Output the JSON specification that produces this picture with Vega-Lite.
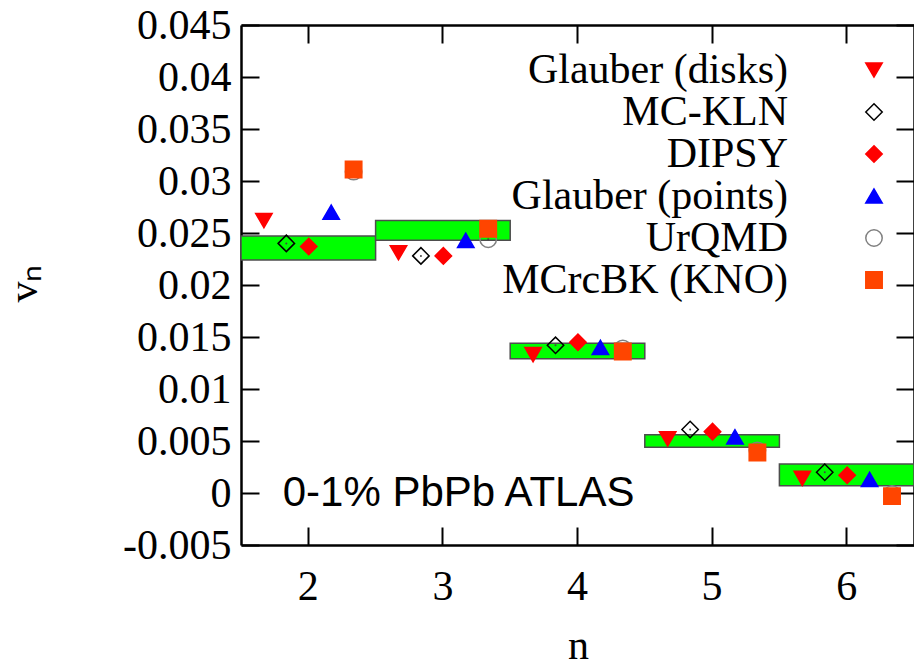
{
  "$schema": "https://vega.github.io/schema/vega-lite/v6.json",
  "width": 673,
  "height": 520,
  "autosize": {"type": "none"},
  "padding": {"left": 241, "top": 25, "right": 0, "bottom": 121},
  "background": "white",
  "config": {
    "view": {"stroke": null},
    "legend": {
      "orient": "none",
      "legendX": 612,
      "legendY": 24,
      "padding": 0,
      "rowPadding": -3.2,
      "labelFont": "Liberation Serif",
      "labelFontSize": 42,
      "labelColor": "black",
      "labelAlign": "right",
      "labelBaseline": "middle",
      "labelOffset": -107,
      "labelLimit": 500,
      "symbolSize": 270,
      "symbolStrokeWidth": 1.5
    }
  },
  "datasets": {
    "atlas": [
      {"n": 2, "lo": 0.0224, "hi": 0.0247},
      {"n": 3, "lo": 0.0243, "hi": 0.0262},
      {"n": 4, "lo": 0.0129, "hi": 0.0144},
      {"n": 5, "lo": 0.0044, "hi": 0.0056},
      {"n": 6, "lo": 0.0007, "hi": 0.0028}
    ],
    "models": [
      {"model": "Glauber (disks)", "n": 2, "v": 0.0262},
      {"model": "Glauber (disks)", "n": 3, "v": 0.0231},
      {"model": "Glauber (disks)", "n": 4, "v": 0.0133},
      {"model": "Glauber (disks)", "n": 5, "v": 0.0052},
      {"model": "Glauber (disks)", "n": 6, "v": 0.0014},
      {"model": "MC-KLN", "n": 2, "v": 0.0240},
      {"model": "MC-KLN", "n": 3, "v": 0.0228},
      {"model": "MC-KLN", "n": 4, "v": 0.0142},
      {"model": "MC-KLN", "n": 5, "v": 0.0061},
      {"model": "MC-KLN", "n": 6, "v": 0.0020},
      {"model": "DIPSY", "n": 2, "v": 0.0237},
      {"model": "DIPSY", "n": 3, "v": 0.0228},
      {"model": "DIPSY", "n": 4, "v": 0.0145},
      {"model": "DIPSY", "n": 5, "v": 0.0059},
      {"model": "DIPSY", "n": 6, "v": 0.0017},
      {"model": "Glauber (points)", "n": 2, "v": 0.0270},
      {"model": "Glauber (points)", "n": 3, "v": 0.0243},
      {"model": "Glauber (points)", "n": 4, "v": 0.0140},
      {"model": "Glauber (points)", "n": 5, "v": 0.0054},
      {"model": "Glauber (points)", "n": 6, "v": 0.0013},
      {"model": "UrQMD", "n": 2, "v": 0.0309},
      {"model": "UrQMD", "n": 3, "v": 0.0244},
      {"model": "UrQMD", "n": 4, "v": 0.0139},
      {"model": "UrQMD", "n": 5, "v": 0.0041},
      {"model": "UrQMD", "n": 6, "v": -0.0001},
      {"model": "MCrcBK (KNO)", "n": 2, "v": 0.0311},
      {"model": "MCrcBK (KNO)", "n": 3, "v": 0.0254},
      {"model": "MCrcBK (KNO)", "n": 4, "v": 0.0136},
      {"model": "MCrcBK (KNO)", "n": 5, "v": 0.0039},
      {"model": "MCrcBK (KNO)", "n": 6, "v": -0.0003}
    ]
  },
  "layer": [
    {
      "data": {"name": "atlas"},
      "mark": {"type": "bar", "fill": "#00ff00", "stroke": "#4d4d4d", "strokeWidth": 1.5, "width": {"expr": "bandwidth('x')"}},
      "encoding": {
        "x": {
          "field": "n",
          "type": "ordinal",
          "scale": {"type": "band", "paddingInner": 0, "paddingOuter": 0},
          "axis": {
            "orient": "bottom",
            "title": "n",
            "titleFont": "Liberation Serif",
            "titleFontSize": 42,
            "titleFontWeight": "normal",
            "titleColor": "black",
            "titleX": 337,
            "titleY": 113,
            "titleAlign": "center",
            "titleBaseline": "alphabetic",
            "labelAngle": 0,
            "labelFont": "Liberation Serif",
            "labelFontSize": 42,
            "labelColor": "black",
            "labelPadding": 72,
            "labelBaseline": "alphabetic",
            "tickSize": -18,
            "tickWidth": 2,
            "tickColor": "black",
            "domainColor": "black",
            "domainWidth": 2.5,
            "grid": false
          }
        },
        "y": {
          "field": "lo",
          "type": "quantitative",
          "scale": {"domain": [-0.005, 0.045], "nice": false, "zero": false},
          "axis": {
            "orient": "left",
            "values": [-0.005, 0, 0.005, 0.01, 0.015, 0.02, 0.025, 0.03, 0.035, 0.04, 0.045],
            "labelExpr": "datum.value + ''",
            "title": "vₙ",
            "titleFont": "Liberation Serif",
            "titleFontSize": 42,
            "titleFontWeight": "normal",
            "titleColor": "black",
            "titleAngle": -90,
            "titleX": -218,
            "titleY": 258,
            "titleAlign": "center",
            "titleBaseline": "middle",
            "labelFont": "Liberation Serif",
            "labelFontSize": 42,
            "labelColor": "black",
            "labelPadding": 28,
            "tickSize": -18,
            "tickWidth": 2,
            "tickColor": "black",
            "domainColor": "black",
            "domainWidth": 2.5,
            "grid": false
          }
        },
        "y2": {"field": "hi"}
      }
    },
    {
      "data": {"name": "models"},
      "transform": [{"filter": "datum.model !== 'MCrcBK (KNO)'"}],
      "mark": {"type": "point", "size": 270, "strokeWidth": 1.5, "opacity": 1},
      "encoding": {
        "x": {
          "field": "n",
          "type": "ordinal",
          "axis": {
            "orient": "top",
            "labels": false,
            "title": null,
            "tickSize": -18,
            "tickWidth": 2,
            "tickColor": "black",
            "domainColor": "black",
            "domainWidth": 2.5,
            "grid": false
          }
        },
        "xOffset": {
          "field": "model",
          "type": "nominal",
          "scale": {
            "type": "point",
            "domain": ["Glauber (disks)", "MC-KLN", "DIPSY", "Glauber (points)", "UrQMD"],
            "range": [22.9, 112.6],
            "padding": 0
          }
        },
        "y": {
          "field": "v",
          "type": "quantitative",
          "axis": {
            "orient": "right",
            "values": [-0.005, 0, 0.005, 0.01, 0.015, 0.02, 0.025, 0.03, 0.035, 0.04, 0.045],
            "labels": false,
            "title": null,
            "tickSize": -18,
            "tickWidth": 2,
            "tickColor": "black",
            "domainColor": "black",
            "domainWidth": 2.5,
            "grid": false
          }
        },
        "shape": {
          "field": "model",
          "type": "nominal",
          "scale": {
            "domain": ["Glauber (disks)", "MC-KLN", "DIPSY", "Glauber (points)", "UrQMD", "MCrcBK (KNO)"],
            "range": ["triangle-down", "diamond", "diamond", "triangle-up", "circle", "square"]
          },
          "legend": {"title": null}
        },
        "fill": {
          "field": "model",
          "type": "nominal",
          "scale": {
            "domain": ["Glauber (disks)", "MC-KLN", "DIPSY", "Glauber (points)", "UrQMD", "MCrcBK (KNO)"],
            "range": ["#ff0000", "transparent", "#ff0000", "#0000ff", "transparent", "#ff4500"]
          },
          "legend": {"title": null}
        },
        "stroke": {
          "field": "model",
          "type": "nominal",
          "scale": {
            "domain": ["Glauber (disks)", "MC-KLN", "DIPSY", "Glauber (points)", "UrQMD", "MCrcBK (KNO)"],
            "range": ["#ff0000", "#000000", "#ff0000", "#0000ff", "#808080", "#ff4500"]
          },
          "legend": {"title": null}
        }
      }
    },
    {
      "data": {"name": "models"},
      "transform": [{"filter": "datum.model === 'MC-KLN' || datum.model === 'UrQMD'"}],
      "mark": {"type": "circle", "size": 4, "color": "#444444", "opacity": 1},
      "encoding": {
        "x": {"field": "n", "type": "ordinal", "axis": null},
        "xOffset": {"field": "model", "type": "nominal"},
        "y": {"field": "v", "type": "quantitative", "axis": null}
      }
    },
    {
      "data": {"name": "models"},
      "transform": [{"filter": "datum.model === 'MCrcBK (KNO)'"}],
      "mark": {"type": "point", "size": 270, "strokeWidth": 1.5, "opacity": 1},
      "encoding": {
        "x": {"field": "n", "type": "ordinal", "axis": null},
        "xOffset": {"datum": "UrQMD", "type": "nominal"},
        "y": {"field": "v", "type": "quantitative", "axis": null},
        "shape": {"field": "model", "type": "nominal", "legend": {"title": null}},
        "fill": {"field": "model", "type": "nominal", "legend": {"title": null}},
        "stroke": {"field": "model", "type": "nominal", "legend": {"title": null}}
      }
    },
    {
      "data": {"values": [{"label": "0-1% PbPb ATLAS"}]},
      "mark": {"type": "text", "font": "Liberation Sans", "fontSize": 42, "align": "left", "baseline": "middle", "color": "black"},
      "encoding": {
        "x": {"datum": 2, "type": "ordinal", "bandPosition": 0.31, "axis": null},
        "y": {"datum": 0, "type": "quantitative", "axis": null},
        "text": {"field": "label"}
      }
    }
  ],
  "resolve": {"axis": {"x": "independent", "y": "independent"}}
}
